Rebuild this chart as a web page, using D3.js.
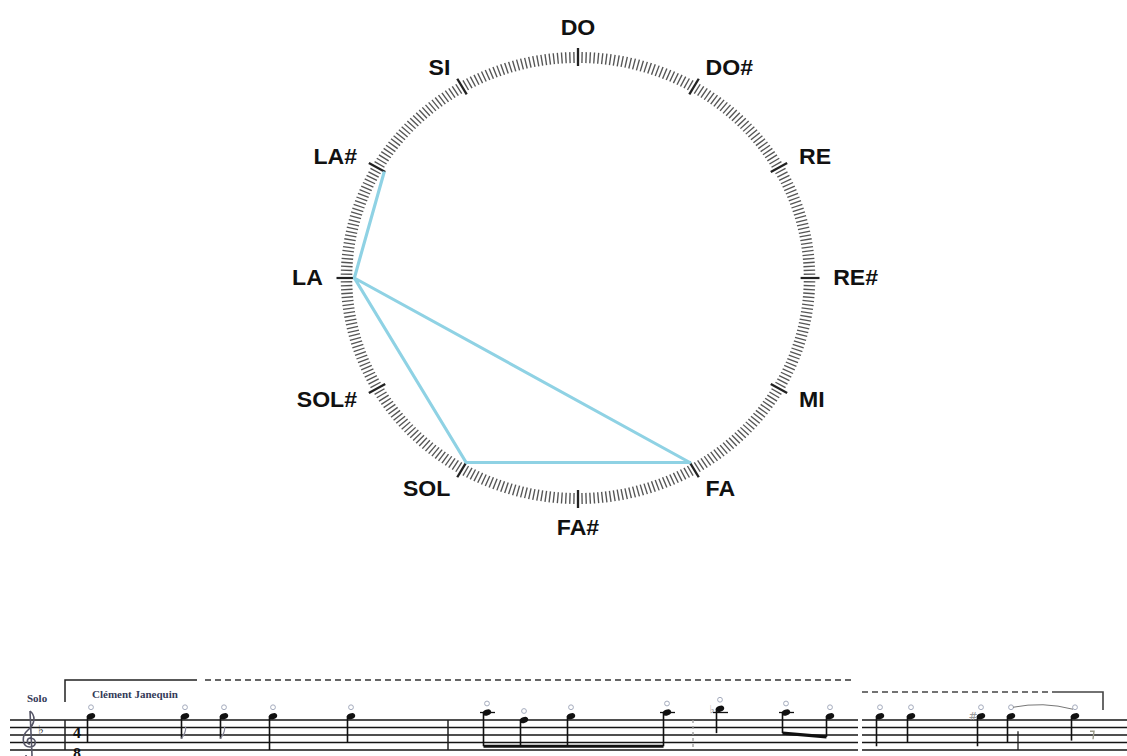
<!DOCTYPE html>
<html>
<head>
<meta charset="utf-8">
<title>Cercle chromatique</title>
<script src="https://cdnjs.cloudflare.com/ajax/libs/d3/7.8.5/d3.min.js"></script>
<style>
  body { margin: 0; background: #fff; }
  .noteLabel { font-family: "Liberation Sans", Arial, sans-serif;
               font-size: 22px;
               font-weight: bold;
               fill: #111; }
  .scoreText { font-family: "Liberation Serif", "Times New Roman", serif;
               font-size: 11px;
               font-weight: bold;
               fill: #333a58; }
</style>
</head>
<body>
<script>
// ---- data ----
var notes = ["DO", "DO#", "RE", "RE#", "MI", "FA", "FA#", "SOL", "SOL#", "LA", "LA#", "SI"];
var melody = ["LA#", "LA", "FA", "SOL", "LA"];
var ticksPerNote = 30;

// score excerpt: t = onset position, step = staff step (0 = top line, 8 = bottom line)
var scoreNotes = [
  {t: 9.1,   step: -1, stemTo: 6},
  {t: 18.5,  step: -1, stemTo: 5,   flag: true},
  {t: 22.4,  step: -1, stemTo: 5,   flag: true},
  {t: 27.3,  step: -1, stemTo: 8},
  {t: 35.1,  step: -1, stemTo: 6},
  {t: 48.7,  step: -2, stemTo: 7,   beam: 1},
  {t: 52.4,  step: 0,  stemTo: 7,   beam: 1},
  {t: 57.1,  step: -1, stemTo: 7,   beam: 1},
  {t: 66.7,  step: -2, stemTo: 7,   beam: 1},
  {t: 72.0,  step: -3, stemTo: 3.5, acc: "♭"},
  {t: 78.6,  step: -2, stemTo: 3.5, beam: 2},
  {t: 83.0,  step: -1, stemTo: 4.5, beam: 2},
  {t: 88.0,  step: -1, stemTo: 7},
  {t: 91.1,  step: -1, stemTo: 6},
  {t: 98.1,  step: -1, stemTo: 7,   acc: "#"},
  {t: 101.1, step: -1, stemTo: 6},
  {t: 107.5, step: -1, stemTo: 5.5}
];
var barlines = [6.5, 44.8];
var dashedBarlines = [69.3];
var shortBarlines = [101.8];
var staffSegments = [[1.0, 85.8], [86.2, 112.7]];
var restPos = [{t: 109.2, step: 3}];
var slurs = [[15, 16]];

var width = 1127, height = 756;
var svg = d3.select("body").append("svg")
    .attr("width", width)
    .attr("height", height);

// ---- chromatic circle ----
var cx = 578, cy = 278, stretch = 1.05;
var angle = d3.scaleLinear().domain([0, notes.length]).range([0, 2 * Math.PI]);
function px(r, a) { return r * Math.sin(a); }
function py(r, a) { return -r * Math.cos(a); }

var circle = svg.append("g")
    .attr("transform", "translate(" + cx + "," + cy + ") scale(" + stretch + ",1)");

var ticks = d3.range(notes.length * ticksPerNote);
circle.selectAll(".tick")
    .data(ticks)
    .enter()
    .append("line")
    .attr("class", "tick")
    .each(function(d) {
        var a = angle(d / ticksPerNote);
        var major = d % ticksPerNote === 0;
        var r0 = major ? 212 : 215, r1 = major ? 230 : 226;
        d3.select(this)
          .attr("x1", px(r0, a)).attr("y1", py(r0, a))
          .attr("x2", px(r1, a)).attr("y2", py(r1, a))
          .attr("stroke", major ? "#222" : "#555")
          .attr("stroke-width", major ? 2.2 : 1.3);
    });

var line = d3.line()
    .x(function(d) { return px(213, angle(notes.indexOf(d))); })
    .y(function(d) { return py(213, angle(notes.indexOf(d))); });

circle.append("path")
    .datum(melody)
    .attr("d", line)
    .attr("fill", "none")
    .attr("stroke", "#8fd2e4")
    .attr("stroke-width", 3)
    .attr("stroke-linejoin", "round");

circle.selectAll(".noteLabel")
    .data(notes)
    .enter()
    .append("text")
    .attr("class", "noteLabel")
    .each(function(d, i) {
        var a = angle(i), s = Math.sin(a), c = Math.cos(a);
        var anchor = s > 0.2 ? "start" : (s < -0.2 ? "end" : "middle");
        var yOff = anchor === "middle" ? (c > 0 ? -7 : 7) : 0;
        d3.select(this)
          .attr("x", px(243, a))
          .attr("y", py(243, a) + yOff)
          .attr("text-anchor", anchor)
          .attr("dominant-baseline", "central")
          .text(d);
    });

// ---- score excerpt ----
var x = d3.scaleLinear().domain([0, 112.7]).range([0, width]);
var y = d3.scaleLinear().domain([0, 8]).range([720, 750]);
var score = svg.append("g");

staffSegments.forEach(function(seg) {
    score.selectAll(null)
        .data([0, 2, 4, 6, 8])
        .enter()
        .append("line")
        .attr("x1", x(seg[0])).attr("x2", x(seg[1]))
        .attr("y1", function(d) { return y(d); })
        .attr("y2", function(d) { return y(d); })
        .attr("stroke", "#151515")
        .attr("stroke-width", 1.3);
});

score.selectAll(".bar")
    .data(barlines)
    .enter()
    .append("line")
    .attr("x1", function(d) { return x(d); }).attr("x2", function(d) { return x(d); })
    .attr("y1", y(0)).attr("y2", y(8))
    .attr("stroke", "#222").attr("stroke-width", 1.5);

score.selectAll(".dbar")
    .data(dashedBarlines)
    .enter()
    .append("line")
    .attr("x1", function(d) { return x(d); }).attr("x2", function(d) { return x(d); })
    .attr("y1", y(0)).attr("y2", y(8))
    .attr("stroke", "#999").attr("stroke-width", 1.3)
    .attr("stroke-dasharray", "3,3");

score.selectAll(".sbar")
    .data(shortBarlines)
    .enter()
    .append("line")
    .attr("x1", function(d) { return x(d); }).attr("x2", function(d) { return x(d); })
    .attr("y1", y(3)).attr("y2", y(8))
    .attr("stroke", "#222").attr("stroke-width", 1.3);

// clef, key and time signature
score.append("path")
    .attr("d", "M30,711 C36,716 35,724 28,730 C21,736 22,747 30,747 C37,747 37,738 30,738 C26,739 27,744 30,744 M30,711 L32,755 C32,759 26,759 26,755")
    .attr("fill", "none").attr("stroke", "#556").attr("stroke-width", 1.6);
score.append("text").attr("x", 38).attr("y", 734)
    .attr("font-family", "DejaVu Sans").attr("font-size", 12).attr("fill", "#333").text("♭");
score.append("text").attr("x", 77).attr("y", 738).attr("text-anchor", "middle")
    .attr("class", "scoreText").style("font-size", "16px").style("fill", "#111").text("4");
score.append("text").attr("x", 77).attr("y", 759).attr("text-anchor", "middle")
    .attr("class", "scoreText").style("font-size", "16px").style("fill", "#111").text("8");

// ledger lines
score.selectAll(".ledger")
    .data(scoreNotes.filter(function(d) { return d.step <= -2; }))
    .enter()
    .append("line")
    .attr("x1", function(d) { return x(d.t) - 7; })
    .attr("x2", function(d) { return x(d.t) + 8; })
    .attr("y1", y(-2)).attr("y2", y(-2))
    .attr("stroke", "#111").attr("stroke-width", 1.3);

// stems
score.selectAll(".stem")
    .data(scoreNotes)
    .enter()
    .append("line")
    .attr("x1", function(d) { return x(d.t) - 3.5; })
    .attr("x2", function(d) { return x(d.t) - 3.5; })
    .attr("y1", function(d) { return y(d.step); })
    .attr("y2", function(d) { return y(d.stemTo); })
    .attr("stroke", "#111").attr("stroke-width", 1.6);

// flags
score.selectAll(".flag")
    .data(scoreNotes.filter(function(d) { return d.flag; }))
    .enter()
    .append("path")
    .attr("d", function(d) {
        var sx = x(d.t) - 3.5, sy = y(d.stemTo);
        return "M" + sx + "," + sy + " C" + (sx + 2) + "," + (sy - 4) + " " + (sx + 5) + "," + (sy - 6) + " " + (sx + 4) + "," + (sy - 12);
    })
    .attr("fill", "none").attr("stroke", "#889").attr("stroke-width", 1.2);

// beams
[1, 2].forEach(function(b) {
    var grp = scoreNotes.filter(function(d) { return d.beam === b; });
    var first = grp[0], last = grp[grp.length - 1];
    score.append("line")
        .attr("x1", x(first.t) - 3.5).attr("y1", y(first.stemTo))
        .attr("x2", x(last.t) - 3.5).attr("y2", y(last.stemTo))
        .attr("stroke", "#111").attr("stroke-width", 3.2);
});

// note heads
score.selectAll(".head")
    .data(scoreNotes)
    .enter()
    .append("ellipse")
    .attr("cx", function(d) { return x(d.t); })
    .attr("cy", function(d) { return y(d.step); })
    .attr("rx", 4.3).attr("ry", 3)
    .attr("transform", function(d) { return "rotate(-20," + x(d.t) + "," + y(d.step) + ")"; })
    .attr("fill", "#111");

// open-string circles
score.selectAll(".open")
    .data(scoreNotes)
    .enter()
    .append("circle")
    .attr("cx", function(d) { return x(d.t); })
    .attr("cy", function(d) { return y(d.step) - 9; })
    .attr("r", 2.4)
    .attr("fill", "none").attr("stroke", "#a4abbd").attr("stroke-width", 1);

// accidentals
score.selectAll(".acc")
    .data(scoreNotes.filter(function(d) { return d.acc; }))
    .enter()
    .append("text")
    .attr("x", function(d) { return x(d.t) - 8; })
    .attr("y", function(d) { return y(d.step) + 4; })
    .attr("text-anchor", "middle")
    .attr("font-family", "DejaVu Sans").attr("font-size", 11)
    .attr("fill", "#999")
    .text(function(d) { return d.acc; });

// slur
slurs.forEach(function(s) {
    var a = scoreNotes[s[0]], b = scoreNotes[s[1]];
    var x0 = x(a.t) + 2, x1 = x(b.t) - 2, y0 = y(a.step) - 9;
    score.append("path")
        .attr("d", "M" + x0 + "," + y0 + " Q" + ((x0 + x1) / 2) + "," + (y0 - 6) + " " + x1 + "," + (y0 + 2))
        .attr("fill", "none").attr("stroke", "#777").attr("stroke-width", 1);
});

// eighth rest
score.selectAll(".rest")
    .data(restPos)
    .enter()
    .append("path")
    .attr("d", function(d) {
        var rx = x(d.t), ry = y(d.step);
        return "M" + (rx - 2) + "," + ry + " L" + (rx + 2) + "," + ry + " L" + (rx + 1) + "," + (ry + 8);
    })
    .attr("fill", "none").attr("stroke", "#998").attr("stroke-width", 1.4);

// headings and brackets
score.append("text").attr("class", "scoreText").attr("x", 27).attr("y", 702).text("Solo");
score.append("text").attr("class", "scoreText").attr("x", 92).attr("y", 698).text("Clément Janequin");

score.append("path")
    .attr("d", "M" + x(6.5) + "," + 702 + " V680 H" + x(19.7))
    .attr("fill", "none").attr("stroke", "#222").attr("stroke-width", 1.5);
score.append("line")
    .attr("x1", x(20.5)).attr("x2", x(85.3)).attr("y1", 680).attr("y2", 680)
    .attr("stroke", "#333").attr("stroke-width", 1.6).attr("stroke-dasharray", "6,4");
score.append("line")
    .attr("x1", x(86.2)).attr("x2", x(105.7)).attr("y1", 692).attr("y2", 692)
    .attr("stroke", "#444").attr("stroke-width", 1.6).attr("stroke-dasharray", "6,4");
score.append("path")
    .attr("d", "M" + x(105.7) + ",692 H" + x(110.3) + " V710")
    .attr("fill", "none").attr("stroke", "#444").attr("stroke-width", 1.6);
</script>
</body>
</html>
